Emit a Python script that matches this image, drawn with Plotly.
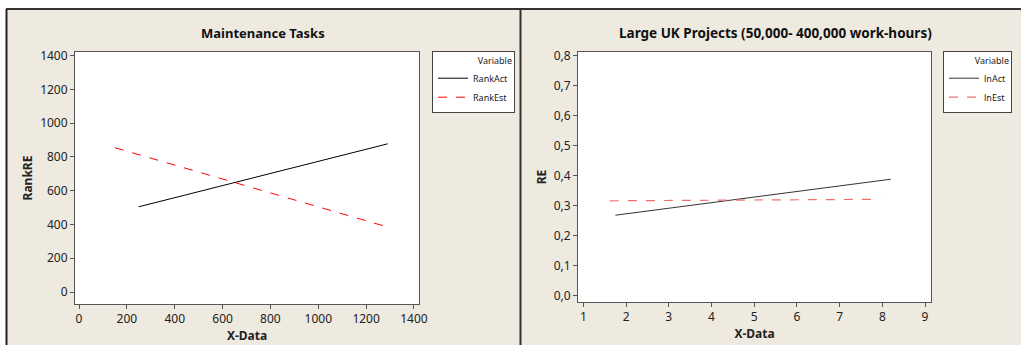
import plotly.graph_objects as go

# Left panel data (Maintenance Tasks)
left_x_act = [250, 1290]
left_y_act = [505, 878]
left_x_est = [150, 1290]
left_y_est = [855, 385]
left_xticks = [0, 200, 400, 600, 800, 1000, 1200, 1400]
left_yticks = [0, 200, 400, 600, 800, 1000, 1200, 1400]

# Right panel data (Large UK Projects)
right_x_act = [1.75, 8.2]
right_y_act = [0.267, 0.387]
right_x_est = [1.62, 7.95]
right_y_est = [0.315, 0.320]
right_xticks = [1, 2, 3, 4, 5, 6, 7, 8, 9]
right_yticks = [0.0, 0.1, 0.2, 0.3, 0.4, 0.5, 0.6, 0.7, 0.8]

W, H = 1021, 345
BG = "#EEEAE0"
FONT = "Noto Sans"

def px(x):
    return x / W

def py(y):
    return 1 - y / H

fig = go.Figure()

fig.add_trace(go.Scatter(x=left_x_act, y=left_y_act, mode="lines", name="RankAct",
                         line=dict(color="black", width=1), xaxis="x", yaxis="y", legend="legend"))
fig.add_trace(go.Scatter(x=left_x_est, y=left_y_est, mode="lines", name="RankEst",
                         line=dict(color="#FF0000", width=1, dash="dash"), xaxis="x", yaxis="y", legend="legend"))
fig.add_trace(go.Scatter(x=right_x_act, y=right_y_act, mode="lines", name="lnAct",
                         line=dict(color="#333333", width=1), xaxis="x2", yaxis="y2", legend="legend2"))
fig.add_trace(go.Scatter(x=right_x_est, y=right_y_est, mode="lines", name="lnEst",
                         line=dict(color="#F07070", width=1.2, dash="dash"), xaxis="x2", yaxis="y2", legend="legend2"))

axis_common = dict(showline=True, linecolor="#555555", linewidth=1, mirror=True,
                   ticks="outside", ticklen=4, tickcolor="#555555", showgrid=False,
                   zeroline=False, automargin=False,
                   tickfont=dict(family=FONT, size=12, color="#222222"))

legend_common = dict(bgcolor="white", bordercolor="#444444", borderwidth=1,
                     font=dict(family=FONT, size=9, color="#222222"),
                     title=dict(text="Variable", side="top right", font=dict(family=FONT, size=9, color="#222222")),
                     xanchor="left", yanchor="top", tracegroupgap=0, itemwidth=30)

fig.update_layout(
    width=W, height=H,
    margin=dict(l=0, r=0, t=0, b=0, autoexpand=False),
    paper_bgcolor=BG, plot_bgcolor="white",
    separators=",.",
    font=dict(family=FONT, size=11, color="#222222"),
    xaxis=dict(domain=[px(75), px(419)], range=[-16.7, 1421], tickvals=left_xticks,
               anchor="y", **axis_common,
               title=dict(text="<b>X-Data</b>", font=dict(family=FONT, size=12), standoff=0)),
    yaxis=dict(domain=[py(304), py(52)], range=[-71, 1422], tickvals=left_yticks,
               anchor="x", **axis_common,
               title=dict(text="<b>RankRE</b>", font=dict(family=FONT, size=12), standoff=4)),
    xaxis2=dict(domain=[px(578), px(931)], range=[0.874, 9.14], tickvals=right_xticks,
                anchor="y2", **axis_common,
                title=dict(text="<b>X-Data</b>", font=dict(family=FONT, size=12), standoff=0)),
    yaxis2=dict(domain=[py(302), py(52)], range=[-0.0223, 0.811], tickvals=right_yticks,
                tickformat=".1f", anchor="x2", **axis_common,
                title=dict(text="<b>RE</b>", font=dict(family=FONT, size=12), standoff=4)),
    legend=dict(x=px(432), y=py(51), **legend_common),
    legend2=dict(x=px(943), y=py(51), **legend_common),
    shapes=[
        dict(type="rect", xref="paper", yref="paper", x0=0, x1=1, y0=py(9), y1=1,
             fillcolor="white", line=dict(width=0), layer="below"),
        dict(type="rect", xref="paper", yref="paper", x0=0, x1=px(6), y0=0, y1=1,
             fillcolor="white", line=dict(width=0), layer="below"),
        dict(type="line", xref="paper", yref="paper", x0=px(6), x1=1, y0=py(9), y1=py(9),
             line=dict(color="#333333", width=2)),
        dict(type="line", xref="paper", yref="paper", x0=px(6.5), x1=px(6.5), y0=0, y1=py(9),
             line=dict(color="#222222", width=2)),
        dict(type="line", xref="paper", yref="paper", x0=px(520.5), x1=px(520.5), y0=0, y1=py(9),
             line=dict(color="#333333", width=2)),
    ],
    annotations=[
        dict(text="<b>Maintenance Tasks</b>", xref="paper", yref="paper", x=px(263), y=py(33),
             xanchor="center", yanchor="middle", showarrow=False,
             font=dict(family=FONT, size=13, color="#111111")),
        dict(text="<b>Large UK Projects (50,000- 400,000 work-hours)</b>", xref="paper", yref="paper",
             x=px(775), y=py(33), xanchor="center", yanchor="middle", showarrow=False,
             font=dict(family=FONT, size=13.5, color="#111111")),
    ],
)

fig.write_html("out.html", config={"displayModeBar": False},
               post_script="document.body.style.margin='0';document.body.style.overflow='hidden';")
